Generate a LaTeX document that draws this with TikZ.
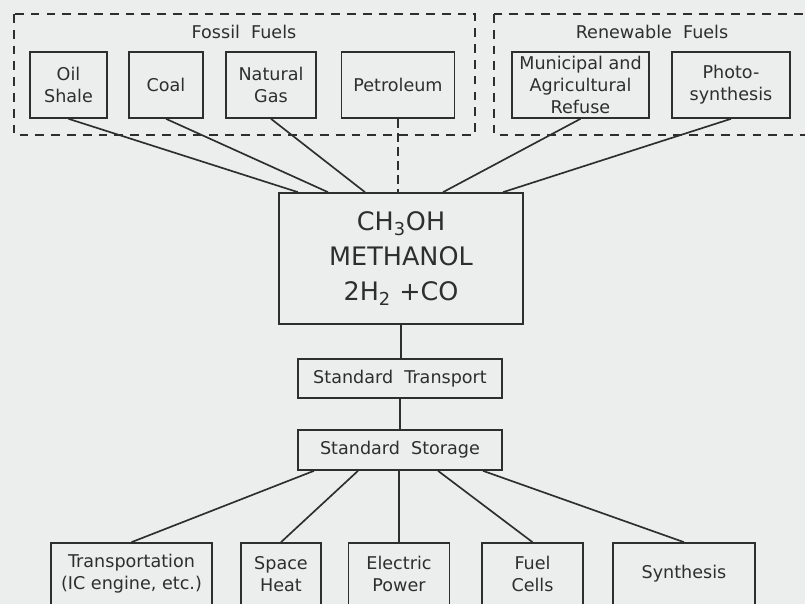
\documentclass[tikz,border=0pt]{standalone}
\usepackage{fontspec}
\setmainfont{DejaVu Sans}
\usepackage{tikz}
\usetikzlibrary{calc}
\definecolor{paper}{HTML}{ECEEED}
\definecolor{ink}{HTML}{2E2E2E}

\begin{document}
\begin{tikzpicture}[x=0.02cm,y=-0.02cm,
  every node/.style={font=\fontsize{10}{12.5}\selectfont,text=ink,align=center},
  src/.style={draw=ink,line width=0.95pt,inner sep=0pt},
  group/.style={draw=ink,line width=0.75pt,dashed,dash pattern=on 5pt off 4pt,inner sep=0pt},
  link/.style={draw=ink,line width=0.95pt}]
\clip (0,0) rectangle (805,604);
\fill[paper] (0,0) rectangle (805,604);
% fuel groups
\draw[group] (14,14) rectangle (475,135);
\draw[group] (494,14) rectangle (812,135);
\node (fossil) at (244,32) {Fossil\ \ Fuels};
\node (renew) at (652,32) {Renewable\ \ Fuels};
% sources
\node[src,minimum width=1.54cm,minimum height=1.32cm] (oil) at (68.5,85) {Oil\\Shale};
\node[src,minimum width=1.48cm,minimum height=1.32cm] (coal) at (166,85) {Coal};
\node[src,minimum width=1.80cm,minimum height=1.32cm] (gas) at (271,85) {Natural\\Gas};
\node[src,minimum width=2.26cm,minimum height=1.32cm] (petrol) at (398,85) {Petroleum};
\node[src,minimum width=2.74cm,minimum height=1.32cm] (refuse) at (580.5,85) {Municipal and\\Agricultural\\Refuse};
\node[src,minimum width=2.36cm,minimum height=1.32cm] (photo) at (731,85) {Photo-\\synthesis};
% methanol
\node[src,minimum width=4.88cm,minimum height=2.62cm,
  font=\fontsize{14.5}{20}\selectfont] (meth) at (401,258.5)
  {CH\textsubscript{3}OH\\METHANOL\\2H\textsubscript{2} +CO};
\node[src,minimum width=4.08cm,minimum height=0.78cm] (transport) at (400,378.5) {Standard\ \ Transport};
\node[src,minimum width=4.08cm,minimum height=0.80cm] (storage) at (400,450) {Standard\ \ Storage};
% uses
\node[src,minimum width=3.22cm,minimum height=1.24cm] (trans) at (131.5,574) {Transportation\\(IC engine, etc.)};
\node[src,minimum width=1.60cm,minimum height=1.24cm] (heat) at (281,574) {Space\\Heat};
\node[src,minimum width=2.02cm,minimum height=1.24cm] (elec) at (399,574) {Electric\\Power};
\node[src,minimum width=2.02cm,minimum height=1.24cm] (cells) at (532.5,574) {Fuel\\Cells};
\node[src,minimum width=2.84cm,minimum height=1.24cm] (synth) at (684,574) {Synthesis};
% connectors
\draw[link] (oil.south) -- ($(meth.north)+(-103,0)$);
\draw[link] (coal.south) -- ($(meth.north)+(-73,0)$);
\draw[link] (gas.south) -- ($(meth.north)+(-36,0)$);
\draw[link,dashed,dash pattern=on 5pt off 3pt] (petrol.south) -- (petrol.south |- meth.north);
\draw[link] (refuse.south) -- ($(meth.north)+(42,0)$);
\draw[link] (photo.south) -- ($(meth.north)+(102,0)$);
\draw[link] (meth.south) -- (meth.south |- transport.north);
\draw[link] (transport.south) -- (transport.south |- storage.north);
\draw[link] ($(storage.south)+(-86,0)$) -- (trans.north);
\draw[link] ($(storage.south)+(-42,0)$) -- (heat.north);
\draw[link] (elec.north |- storage.south) -- (elec.north);
\draw[link] ($(storage.south)+(38,0)$) -- (cells.north);
\draw[link] ($(storage.south)+(83,0)$) -- (synth.north);
\end{tikzpicture}
\end{document}
